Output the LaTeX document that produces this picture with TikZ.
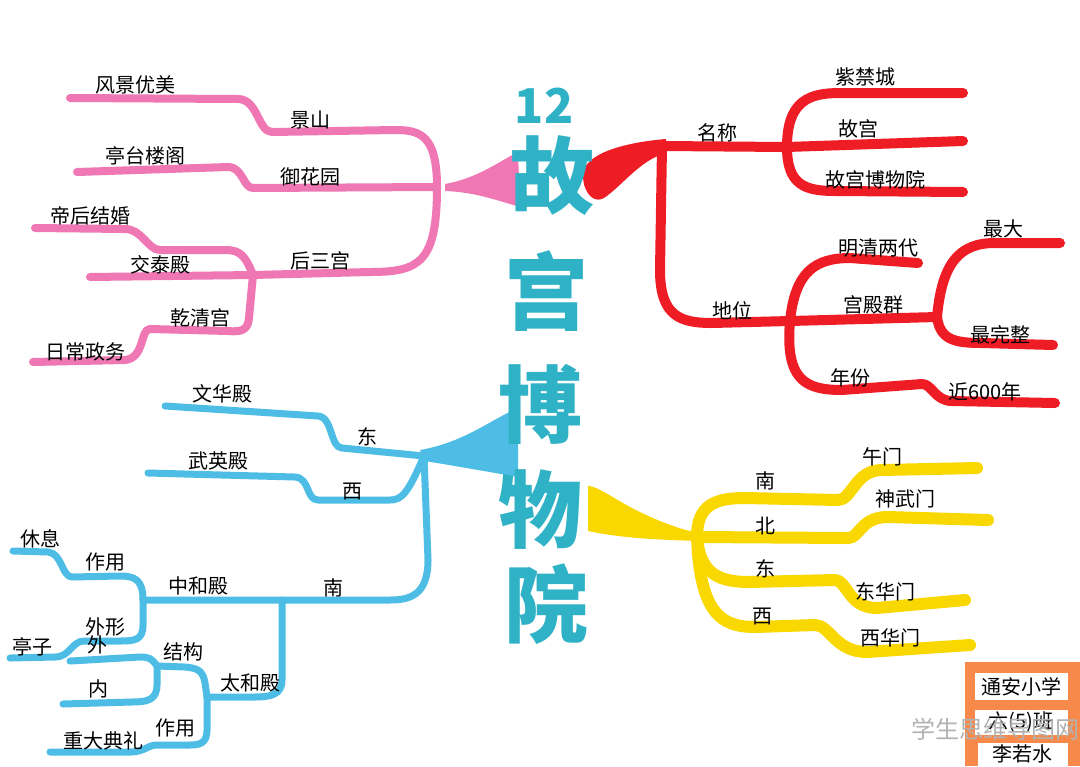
\documentclass[tikz,border=0pt]{standalone}
\usepackage{fontspec}
\setmainfont{Noto Sans CJK SC}
\definecolor{pinkc}{HTML}{EF78B4}
\definecolor{redc}{HTML}{EE1C25}
\definecolor{yelc}{HTML}{F8D800}
\definecolor{bluec}{HTML}{4DBDE6}
\definecolor{tealc}{HTML}{2FB2C6}
\definecolor{orangec}{HTML}{F7894A}
\tikzset{
  lbl/.style={font=\fontsize{10}{10}\selectfont, inner sep=0pt, text=black},
  ttl/.style={font=\fontsize{42}{42}\selectfont\bfseries, inner sep=0pt, text=tealc},
  pbr/.style={draw=pinkc, line width=4pt, line cap=round, line join=round},
  rbr/.style={draw=redc, line width=5pt, line cap=round, line join=round},
  ybr/.style={draw=yelc, line width=6pt, line cap=round, line join=round},
  bbr/.style={draw=bluec, line width=3.5pt, line cap=round, line join=round},
}
\begin{document}
\begin{tikzpicture}[x=0.5pt,y=-0.5pt]
\useasboundingbox (0,0) rectangle (1080,766);
\fill[white] (0,0) rectangle (1080,766);

%% ---------- PINK ----------
\coordinate (pJ) at (437,187);
\coordinate (pH) at (253,275);
\fill[pinkc] (445,184) .. controls (478,178) and (498,162) .. (518,152) -- (520,207) .. controls (496,200) and (474,192) .. (445,191) -- cycle;
\path[pbr] (pJ) .. controls (437,135) and (420,130) .. (395,130) -- (272,132) .. controls (258,132) and (258,99) .. (238,99) -- (70,98);
\path[pbr] (pJ) -- (253,188) .. controls (243,188) and (243,167) .. (228,167) -- (77,172);
\path[pbr] (pJ) .. controls (437,262) and (420,272) .. (370,272) -- (pH);
\path[pbr] (pH) .. controls (245,255) and (240,250) .. (225,250) -- (160,250) .. controls (148,250) and (142,229) .. (125,229) -- (35,228);
\path[pbr] (pH) -- (90,277);
\path[pbr] (pH) -- (249,318) .. controls (248,331) and (240,332) .. (228,331) -- (150,329) .. controls (140,329) and (145,358) .. (125,360) -- (33,362);
\node[lbl] (fjym) at (135,85) {风景优美};
\node[lbl] (js) at (310,120) {景山};
\node[lbl] (ttlg) at (145,156) {亭台楼阁};
\node[lbl] (yhy) at (310,177) {御花园};
\node[lbl] (dhjh) at (90,216) {帝后结婚};
\node[lbl] (jtd) at (160,265) {交泰殿};
\node[lbl] (hsg) at (320,261) {后三宫};
\node[lbl] (qqg) at (200,318) {乾清宫};
\node[lbl] (rczw) at (85,352) {日常政务};

%% ---------- RED ----------
\coordinate (rR) at (662,146);
\coordinate (rJ1) at (787,147);
\coordinate (rJ2) at (790,321);
\coordinate (rJ3) at (937,317);
\fill[redc] (666,139) .. controls (630,142) and (600,150) .. (588,163) .. controls (576,176) and (588,207) .. (604,198) .. controls (622,186) and (640,160) .. (666,153) -- cycle;
\path[rbr] (rR) -- (rJ1);
\path[rbr] (rJ1) .. controls (787,100) and (810,93) .. (840,93) -- (963,93);
\path[rbr] (rJ1) -- (963,141);
\path[rbr] (rJ1) .. controls (787,185) and (805,191) .. (835,191) -- (963,192);
\path[rbr] (rR) -- (660,270) .. controls (660,316) and (680,323) .. (712,323) -- (rJ2);
\path[rbr] (rJ2) .. controls (795,272) and (815,258) .. (850,258) -- (918,263);
\path[rbr] (rJ2) -- (rJ3);
\path[rbr] (rJ3) .. controls (942,262) and (960,243) .. (995,243) -- (1060,243);
\path[rbr] (rJ3) .. controls (940,340) and (955,343) .. (982,343) -- (1053,345);
\path[rbr] (rJ2) .. controls (785,380) and (805,390) .. (842,390) -- (922,384) .. controls (932,384) and (935,401) .. (952,401) -- (1055,403);
\node[lbl] (mc) at (717,133) {名称};
\node[lbl] (zjc) at (865,77) {紫禁城};
\node[lbl] (gg) at (858,129) {故宫};
\node[lbl] (ggbwy) at (875,180) {故宫博物院};
\node[lbl] (dw) at (732,311) {地位};
\node[lbl] (mqld) at (878,248) {明清两代};
\node[lbl] (gdq) at (873,305) {宫殿群};
\node[lbl] (zd) at (1003,229) {最大};
\node[lbl] (zwz) at (1000,335) {最完整};
\node[lbl] (nf) at (850,378) {年份};
\node[lbl] (j600) at (985,392) {近600年};

%% ---------- YELLOW ----------
\coordinate (yJ) at (697,537);
\fill[yelc] (588,486) .. controls (600,486) and (620,505) .. (660,521) .. controls (678,528) and (690,532) .. (702,533) -- (702,541) .. controls (660,540) and (620,538) .. (588,531) -- cycle;
\path[ybr] (yJ) .. controls (697,505) and (715,498) .. (745,498) -- (838,500) .. controls (852,500) and (855,470) .. (882,470) -- (977,468);
\path[ybr] (yJ) -- (848,538) .. controls (860,538) and (860,517) .. (888,517) -- (988,520);
\path[ybr] (yJ) .. controls (700,575) and (720,582) .. (750,582) -- (835,580) .. controls (847,580) and (848,608) .. (877,608) -- (965,600);
\path[ybr] (yJ) .. controls (700,612) and (720,627) .. (755,627) -- (815,625) .. controls (830,625) and (835,652) .. (867,652) -- (970,645);
\node[lbl] (yn) at (765,481) {南};
\node[lbl] (wm) at (882,457) {午门};
\node[lbl] (yb) at (765,526) {北};
\node[lbl] (swm) at (905,499) {神武门};
\node[lbl] (yd) at (765,569) {东};
\node[lbl] (dhm) at (885,592) {东华门};
\node[lbl] (yx) at (762,616) {西};
\node[lbl] (xhm) at (890,638) {西华门};

%% ---------- BLUE ----------
\coordinate (bJ) at (424,456);
\coordinate (bZ) at (143,600);
\coordinate (bT) at (282,600);
\coordinate (bTJ) at (207,697);
\coordinate (bG) at (157,666);
\fill[bluec] (420,450) .. controls (465,442) and (490,420) .. (518,408) -- (518,477) .. controls (490,472) and (455,466) .. (425,461) -- cycle;
\path[bbr] (bJ) -- (342,448) .. controls (330,448) and (333,417) .. (318,416) -- (165,406);
\path[bbr] (bJ) .. controls (408,493) and (402,500) .. (390,500) -- (318,500) .. controls (306,500) and (310,478) .. (295,477) -- (148,473);
\path[bbr] (bJ) -- (428,560) .. controls (428,595) and (410,600) .. (390,600) -- (bT) -- (bZ);
\path[bbr] (bT) -- (282,680) .. controls (282,695) and (270,697) .. (255,697) -- (bTJ);
\path[bbr] (bZ) .. controls (143,580) and (135,576) .. (120,576) -- (72,577) .. controls (62,577) and (62,553) .. (48,552) -- (13,551);
\path[bbr] (bZ) -- (143,625) .. controls (143,640) and (135,641) .. (120,641) -- (84,641) .. controls (72,641) and (70,657) .. (55,657) -- (10,658);
\path[bbr] (bTJ) -- (205,683) .. controls (203,669) and (195,668) .. (185,667) -- (bG);
\path[bbr] (bG) .. controls (152,659) and (150,657) .. (140,657) -- (70,661);
\path[bbr] (bG) -- (157,685) .. controls (157,700) and (147,702) .. (132,702) -- (63,704);
\path[bbr] (bTJ) -- (207,730) .. controls (207,743) and (200,745) .. (190,745) -- (157,745) .. controls (147,745) and (145,752) .. (130,752) -- (50,752);
\node[lbl] (whd) at (222,394) {文华殿};
\node[lbl] (bd) at (367,437) {东};
\node[lbl] (wyd) at (218,461) {武英殿};
\node[lbl] (bx) at (352,491) {西};
\node[lbl] (bn) at (333,588) {南};
\node[lbl] (zhd) at (198,586) {中和殿};
\node[lbl] (zy1) at (105,562) {作用};
\node[lbl] (xx) at (40,539) {休息};
\node[lbl] (wx) at (105,627) {外形};
\node[lbl] (tz) at (32,647) {亭子};
\node[lbl] (jg) at (183,652) {结构};
\node[lbl] (thd) at (250,683) {太和殿};
\node[lbl] (wai) at (97,645) {外};
\node[lbl] (nei) at (98,689) {内};
\node[lbl] (zy2) at (175,728) {作用};
\node[lbl] (zddl) at (103,741) {重大典礼};

%% ---------- TITLE ----------
\node[ttl, font=\fontsize{24}{24}\selectfont\bfseries] (t12) at (544,106) {12};
\node[ttl] (t1) at (552,176) {故};
\node[ttl] (t2) at (546,291) {宫};
\node[ttl] (t3) at (540,404) {博};
\node[ttl] (t4) at (540,510) {物};
\node[ttl] (t5) at (546,604) {院};

%% ---------- NAME BOX ----------
\fill[orangec] (965,662) rectangle (1080,766);
\fill[white] (975,673) rectangle (1068,700);
\fill[white] (975,710) rectangle (1068,735);
\fill[white] (978,743) rectangle (1068,766);
\node[lbl] (school) at (1021,687) {通安小学};
\node[lbl] (cls) at (1021,722) {六(5)班};
\node[lbl] (nm) at (1022,754) {李若水};
\node[inner sep=0pt, text=gray!60, font=\fontsize{12}{12}\selectfont] (wm2) at (995,729) {学生思维导图网};
\end{tikzpicture}
\end{document}
